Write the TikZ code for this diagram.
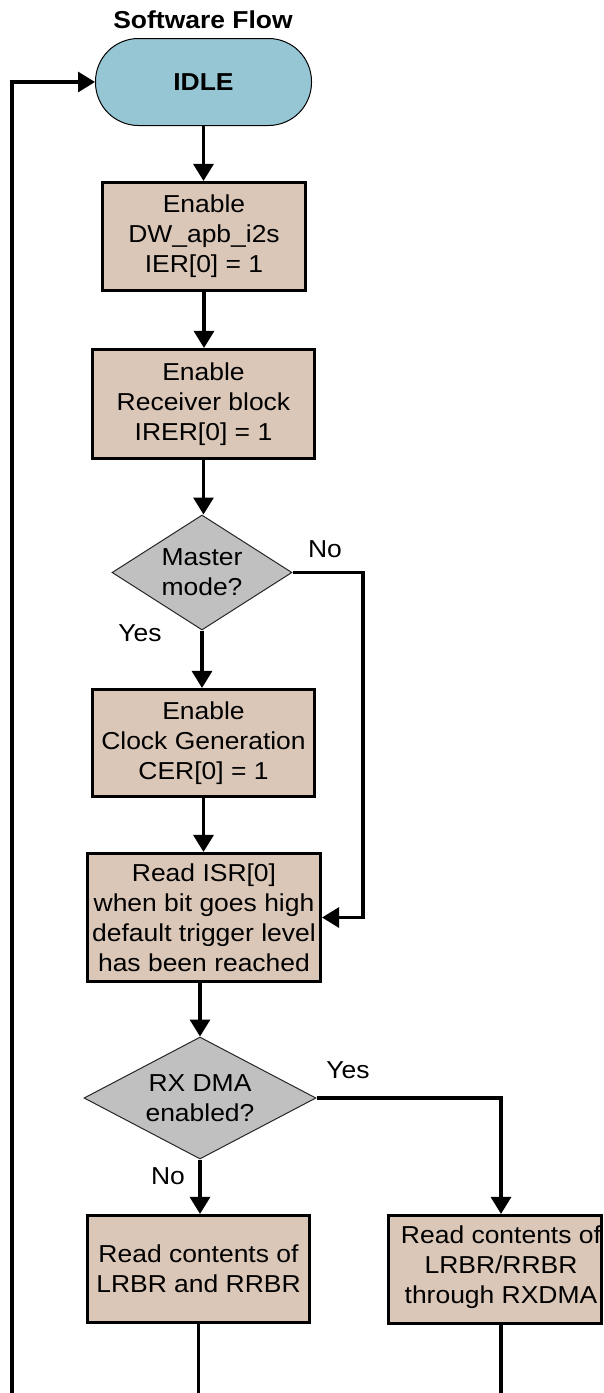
\documentclass[tikz,border=0pt]{standalone}
\usepackage{fontspec}
\setmainfont{Liberation Sans}[FakeStretch=1.08]
\usetikzlibrary{arrows.meta,shapes.geometric}
\definecolor{boxfill}{RGB}{219,199,184}
\definecolor{idlefill}{RGB}{150,198,212}
\definecolor{decfill}{RGB}{192,192,192}
\newcommand{\flowfont}{\fontsize{24.5}{30}\selectfont}
\begin{document}
\begin{tikzpicture}[x=1pt,y=-1pt,
  every node/.style={font=\flowfont, align=center},
  stepbox/.style={rectangle, draw, line width=3.1pt, fill=boxfill, inner sep=2pt},
  decision/.style={diamond, draw=black!85, line width=1pt, fill=decfill, inner sep=0pt},
  terminal/.style={rectangle, rounded corners=43pt, draw, line width=1pt, fill=idlefill,
                   font=\bfseries\flowfont},
  flow/.style={line width=3.1pt, -{Triangle[length=17pt,width=20pt]}},
  wire/.style={line width=3.1pt},
  lbl/.style={inner sep=0pt}]
\useasboundingbox (0,0) rectangle (604,1393);

% title and start state
\node[font=\bfseries\flowfont] (title) at (203,20) {Software Flow};
\node[terminal, minimum width=216pt, minimum height=87pt] (idle) at (203.5,82) {IDLE};

% main column
\node[stepbox, minimum width=203pt, minimum height=108pt] (ier) at (204,236.5)
  {Enable\\DW\_apb\_i2s\\IER[0] = 1};
\node[stepbox, minimum width=222pt, minimum height=109pt] (irer) at (203.5,404)
  {Enable\\Receiver block\\IRER[0] = 1};
\node[decision, minimum width=180pt, minimum height=115pt, aspect=1.565] (master) at (202,572.5)
  {Master\\mode?};
\node[stepbox, minimum width=222pt, minimum height=107pt] (cer) at (203.5,743)
  {Enable\\Clock Generation\\CER[0] = 1};
\node[stepbox, minimum width=233pt, minimum height=128pt] (isr) at (204,917.5)
  {Read ISR[0]\\when bit goes high\\default trigger level\\has been reached};
\node[decision, minimum width=232pt, minimum height=122pt, aspect=1.9] (dma) at (200,1098)
  {RX DMA\\enabled?};
\node[stepbox, minimum width=222pt, minimum height=107pt] (rdcpu) at (198.5,1269)
  {Read contents of\\LRBR and RRBR};
\node[stepbox, minimum width=213pt, minimum height=108pt] (rddma) at (495,1269.5) {};
\node (rddmatext) at (501,1267) {Read contents of\\LRBR/RRBR\\through RXDMA};

% branch labels
\node[lbl] (no1) at (325,549) {No};
\node[lbl] (yes1) at (140,633) {Yes};
\node[lbl] (yes2) at (348,1070) {Yes};
\node[lbl] (no2) at (168,1176) {No};

% routing points
\coordinate (nocol) at (363,0);
\coordinate (yescol) at (501,0);
\coordinate (loopfoot) at (12,1400);

% connectors
\draw[flow] (idle.south) -- (idle.south |- ier.north);
\draw[flow] (ier.south) -- (ier.south |- irer.north);
\draw[flow] (irer.south) -- (irer.south |- master.north);
\draw[flow] (master.south) -- (master.south |- cer.north);
\draw[flow] (cer.south) -- (cer.south |- isr.north);
\draw[flow] (master.east) -| (nocol |- isr.east) -- (isr.east);
\draw[flow] (isr.south -| dma.north) -- (dma.north);
\draw[flow] (dma.south) -- (dma.south |- rdcpu.north);
\draw[flow] (dma.east) -| (yescol |- rddma.north);
\draw[wire] (rdcpu.south) -- (rdcpu.south |- loopfoot);
\draw[wire] (yescol |- rddma.south) -- (yescol |- loopfoot);
\draw[flow] (loopfoot) |- (idle.west);
\end{tikzpicture}
\end{document}
